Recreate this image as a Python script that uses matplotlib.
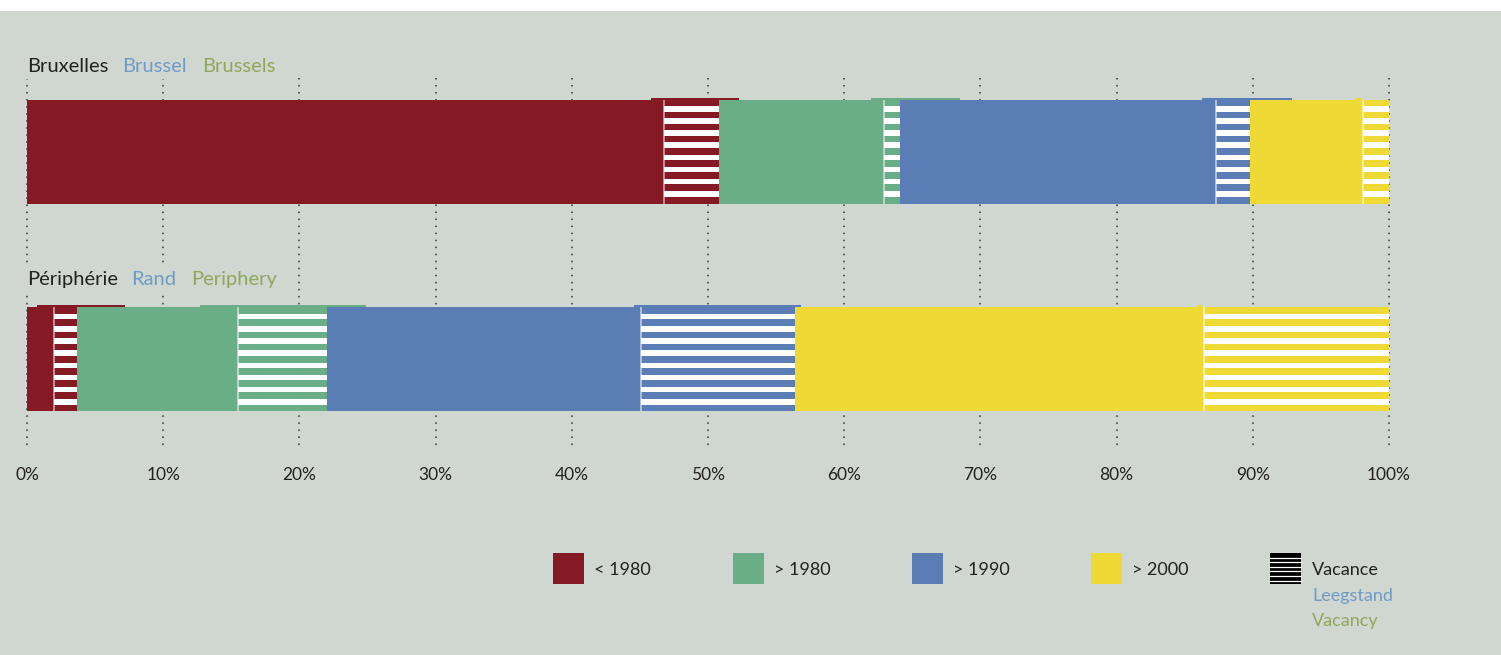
import matplotlib
matplotlib.use("Agg")
import matplotlib.pyplot as plt
from matplotlib.patches import Rectangle

# data (percent of stock)
regions = ["Bruxelles", "Périphérie"]
region_nl = ["Brussel", "Rand"]
region_en = ["Brussels", "Periphery"]
periods = ["< 1980", "> 1980", "> 1990", "> 2000"]
# occupied / vacant share per period
brux_occupied = [46.8, 12.1, 23.2, 8.3]
brux_vacant = [4.0, 1.2, 2.5, 1.9]
peri_occupied = [2.0, 11.8, 23.1, 30.0]
peri_vacant = [1.7, 6.5, 11.3, 13.6]
ticks = [0, 10, 20, 30, 40, 50, 60, 70, 80, 90, 100]
tick_labels = ["0%", "10%", "20%", "30%", "40%", "50%", "60%", "70%", "80%", "90%", "100%"]
# thin edge strokes above the bars (start, end) per period
brux_edges = [(45.8, 52.3), (62.0, 68.5), (86.3, 92.9), (97.5, 98.0)]
peri_edges = [(0.7, 7.2), (12.7, 24.9), (44.6, 56.8), (86.0, 86.3)]

colors = ["#851a25", "#69ae86", "#5b7db5", "#eed935"]
bg = "#d0d7d0"
c_black = "#222222"
c_blue = "#6e9bc8"
c_green = "#8ea85b"
font = "Lato"

fig = plt.figure(figsize=(15.01, 6.55), dpi=100, facecolor=bg)
fig.patches.append(Rectangle((0, 644 / 655), 1, 11 / 655, transform=fig.transFigure,
                             facecolor="white", edgecolor="none", zorder=0))
ax = fig.add_axes([0, 0, 1, 644 / 655])
ax.set_facecolor(bg)
px = 13.62  # pixels per percent
ax.set_xlim(-27 / px, (1501 - 27) / px)
ax.set_ylim(655, 11)
ax.set_xticks([])
ax.set_yticks([])
for s in ax.spines.values():
    s.set_visible(False)


def xpix(p):
    return (p - 27) / px


# dotted grid
ax.vlines(ticks, 78, 450, colors="#333333", linewidth=1.1,
          linestyles=(0, (1, 3.6)), zorder=1)

bar_tops = [100, 307]
bar_h = 104
stripe_off = [6, 7]
for r, (occ, vac, edges) in enumerate([(brux_occupied, brux_vacant, brux_edges),
                                        (peri_occupied, peri_vacant, peri_edges)]):
    top = bar_tops[r]
    left = 0
    for i in range(4):
        ax.barh(top + bar_h / 2, occ[i], left=left, height=bar_h,
                color=colors[i], linewidth=0, zorder=3)
        left += occ[i]
        ax.barh(top + bar_h / 2, vac[i], left=left, height=bar_h,
                color=colors[i], linewidth=0, zorder=3)
        for k in range(8):
            y0 = top + stripe_off[r] + k * 12.15
            ax.barh(y0 + 2.75, vac[i], left=left, height=5.5,
                    color="white", linewidth=0, zorder=4)
        ax.vlines(left, top, top + bar_h, colors="white", alpha=0.6,
                  linewidth=1.2, zorder=5)
        left += vac[i]
        e0, e1 = edges[i]
        ax.barh(top - 0.8, e1 - e0, left=e0, height=1.6,
                color=colors[i], linewidth=0, zorder=2)

# region labels
label_y = [72, 285]
label_x = [[27, 122, 202], [27, 131, 191]]
for r in range(2):
    words = [regions[r], region_nl[r], region_en[r]]
    for w, xp, c in zip(words, label_x[r], [c_black, c_blue, c_green]):
        ax.text(xpix(xp), label_y[r], w, fontsize=14.5,
                family=font, color=c, va="baseline", ha="left", zorder=6,
                bbox=dict(facecolor=bg, edgecolor="none", pad=3))

# x tick labels
for t, lab in zip(ticks, tick_labels):
    ax.text(t, 475, lab, fontsize=12.5, family=font, color=c_black,
            ha="center", va="center")

# legend
leg_px = [553, 733, 912, 1091]
for i in range(4):
    x0 = xpix(leg_px[i])
    ax.add_patch(Rectangle((x0, 553), 31 / px, 31, facecolor=colors[i],
                           edgecolor="none", zorder=3))
    ax.text(x0 + 41 / px, 570, periods[i], fontsize=13, family=font,
            color=c_black, va="center", ha="left")

vx = xpix(1270)
ax.add_patch(Rectangle((vx, 553), 31 / px, 31, facecolor="black",
                       edgecolor="none", zorder=3))
for k in range(6):
    yy = 553 + 4.6 * (k + 1)
    ax.plot([vx, vx + 31 / px], [yy, yy], color="white", linewidth=0.9, zorder=4)
ax.text(vx + 42 / px, 570, "Vacance", fontsize=13, family=font, color=c_black,
        va="center", ha="left")
ax.text(vx + 42 / px, 596, "Leegstand", fontsize=13, family=font, color=c_blue,
        va="center", ha="left")
ax.text(vx + 42 / px, 621, "Vacancy", fontsize=13, family=font, color=c_green,
        va="center", ha="left")

fig.savefig("out.png", dpi=100, facecolor=bg)
